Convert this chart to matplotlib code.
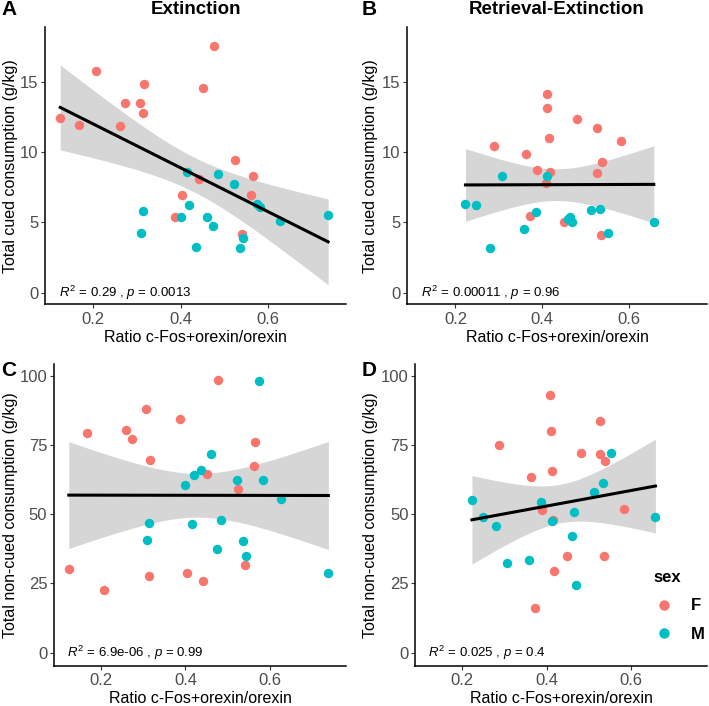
import numpy as np
import matplotlib
matplotlib.use("Agg")
import matplotlib.pyplot as plt
from matplotlib.lines import Line2D

plt.rcParams['font.family'] = ['Liberation Sans', 'DejaVu Sans']
plt.rcParams['mathtext.fontset'] = 'custom'
plt.rcParams['mathtext.rm'] = 'Liberation Sans'
plt.rcParams['mathtext.it'] = 'Liberation Sans:italic'

############## Data ##################
# Extinction group (same animals in panels A and C)
ratio_ext_F = [0.124, 0.167, 0.207, 0.273, 0.260, 0.306, 0.316, 0.313, 0.451, 0.477,
               0.524, 0.565, 0.562, 0.442, 0.403, 0.387, 0.540]
cued_ext_F = [12.46, 11.94, 15.76, 13.53, 11.87, 13.53, 14.83, 12.79, 14.60, 17.54,
              9.45, 8.33, 6.98, 8.12, 6.98, 5.41, 4.18]
noncued_ext_F = [30.3, 79.2, 22.6, 77.3, 80.4, 88.0, 69.6, 27.6, 64.4, 98.3,
                 59.2, 76.1, 67.4, 26.0, 28.9, 84.2, 31.8]

ratio_ext_M = [0.313, 0.310, 0.415, 0.4195, 0.400, 0.460, 0.474, 0.4356, 0.485, 0.522,
               0.574, 0.583, 0.544, 0.5365, 0.627, 0.738]
cued_ext_M = [5.79, 4.22, 8.59, 6.27, 5.41, 5.41, 4.75, 3.23, 8.45, 7.71,
              6.34, 6.08, 3.92, 3.20, 5.13, 5.53]
noncued_ext_M = [46.8, 40.8, 46.4, 64.1, 60.5, 71.6, 37.3, 65.9, 48.0, 62.2,
                 98.0, 62.2, 35.0, 40.4, 55.4, 28.9]

# Retrieval-Extinction group (panels B and D)
ratio_ret_F = [0.288, 0.362, 0.389, 0.371, 0.4077, 0.410, 0.412, 0.4146, 0.417, 0.480,
               0.527, 0.5257, 0.537, 0.582, 0.449, 0.535]
cued_ret_F = [10.44, 9.85, 8.76, 5.46, 7.81, 14.17, 13.15, 11.04, 8.59, 12.37,
              11.70, 8.55, 9.28, 10.82, 5.03, 4.11]
noncued_ret_F = [75.1, 63.5, 51.5, 16.0, 93.1, 79.9, 65.7, 47.9, 29.4, 72.0,
                 83.5, 71.7, 69.3, 51.9, 34.9, 34.8]

ratio_ret_M = [0.223, 0.248, 0.3065, 0.279, 0.357, 0.3854, 0.4115, 0.4605, 0.4644, 0.469,
               0.512, 0.534, 0.552, 0.657]
cued_ret_M = [6.34, 6.22, 8.31, 3.16, 4.56, 5.77, 8.33, 5.22, 5.39, 5.06,
              5.89, 5.98, 4.22, 5.03]
noncued_ret_M = [55.1, 49.1, 32.4, 45.7, 33.3, 54.5, 47.4, 42.2, 50.9, 24.4,
                 57.9, 61.4, 72.0, 49.0]

stat_labels = [r"$\it{R}^2$ = 0.29 , $\it{p}$ = 0.0013",
               r"$\it{R}^2$ = 0.00011 , $\it{p}$ = 0.96",
               r"$\it{R}^2$ = 6.9e-06 , $\it{p}$ = 0.99",
               r"$\it{R}^2$ = 0.025 , $\it{p}$ = 0.4"]

COL_F = '#F8766D'
COL_M = '#00BFC4'
T95 = {28: 2.0484, 31: 2.0395}   # t quantiles for 95% CI


def lm_band(x, y, n_grid=80):
    x = np.asarray(x, float)
    y = np.asarray(y, float)
    n = len(x)
    X = np.column_stack([np.ones(n), x])
    beta = np.linalg.lstsq(X, y, rcond=None)[0]
    resid = y - X @ beta
    s2 = resid @ resid / (n - 2)
    cov = s2 * np.linalg.inv(X.T @ X)
    xg = np.linspace(x.min(), x.max(), n_grid)
    Xg = np.column_stack([np.ones_like(xg), xg])
    se = np.sqrt(np.einsum('ij,jk,ik->i', Xg, cov, Xg))
    yhat = Xg @ beta
    t = T95[n - 2]
    return xg, yhat, yhat - t * se, yhat + t * se


W, H = 709, 706
fig = plt.figure(figsize=(W / 100, H / 100), dpi=100)


def px_axes(l, r, t, b):
    return fig.add_axes([l / W, 1 - b / H, (r - l) / W, (b - t) / H])


def draw_panel(ax, xF, yF, xM, yM, ylim, yticks, stat):
    x_all = np.concatenate([xF, xM])
    y_all = np.concatenate([yF, yM])
    xg, yhat, lo, hi = lm_band(x_all, y_all)
    ax.fill_between(xg, lo, hi, color='#D6D6D6', lw=0, zorder=1)
    ax.scatter(xF, yF, s=46, color=COL_F, lw=0, zorder=2)
    ax.scatter(xM, yM, s=46, color=COL_M, lw=0, zorder=2)
    ax.plot(xg, yhat, color='black', lw=2.2, zorder=3)
    ax.set_xlim(0.089, 0.779)
    ax.set_ylim(*ylim)
    ax.set_xticks([0.2, 0.4, 0.6])
    ax.set_xticklabels(['0.2', '0.4', '0.6'])
    ax.set_yticks(yticks)
    for s in ['top', 'right']:
        ax.spines[s].set_visible(False)
    for s in ['left', 'bottom']:
        ax.spines[s].set_linewidth(1.1)
        ax.spines[s].set_color('black')
    ax.tick_params(axis='both', length=2.8, width=0.8, color='#333333',
                   labelsize=12, labelcolor='#4D4D4D')
    ax.tick_params(axis='x', pad=2.6)
    ax.tick_params(axis='y', pad=2.0)
    ax.text(0.12, 0, stat, fontsize=9.5, ha='left', va='center', color='black', zorder=4)


axA = px_axes(45, 346, 27.3, 304.3)
axB = px_axes(407.3, 706.7, 27.3, 304.3)
axC = px_axes(54, 345.7, 363.7, 665.5)
axD = px_axes(415.3, 707, 363.7, 665.5)

draw_panel(axA, ratio_ext_F, cued_ext_F, ratio_ext_M, cued_ext_M,
           (-0.83, 18.89), [0, 5, 10, 15], stat_labels[0])
draw_panel(axB, ratio_ret_F, cued_ret_F, ratio_ret_M, cued_ret_M,
           (-0.83, 18.89), [0, 5, 10, 15], stat_labels[1])
draw_panel(axC, ratio_ext_F, noncued_ext_F, ratio_ext_M, noncued_ext_M,
           (-4.6, 104.3), [0, 25, 50, 75, 100], stat_labels[2])
draw_panel(axD, ratio_ret_F, noncued_ret_F, ratio_ret_M, noncued_ret_M,
           (-4.6, 104.3), [0, 25, 50, 75, 100], stat_labels[3])


def ftext(x, y, s, **kw):
    fig.text(x / W, 1 - y / H, s, **kw)


# titles and panel letters
ftext(195.5, 10, 'Extinction', fontsize=13.5, fontweight='bold', ha='center', va='center')
ftext(557, 10, 'Retrieval-Extinction', fontsize=13.5, fontweight='bold', ha='center', va='center')
ftext(1, 9.5, 'A', fontsize=15, fontweight='bold', ha='left', va='center')
ftext(362, 9.5, 'B', fontsize=15, fontweight='bold', ha='left', va='center')
ftext(1, 370, 'C', fontsize=15, fontweight='bold', ha='left', va='center')
ftext(362, 370, 'D', fontsize=15, fontweight='bold', ha='left', va='center')

# axis titles
xlab = 'Ratio c-Fos+orexin/orexin'
ftext(195.5, 338, xlab, fontsize=11.5, ha='center', va='center')
ftext(557, 338, xlab, fontsize=11.5, ha='center', va='center')
ftext(200, 698.5, xlab, fontsize=11.5, ha='center', va='center')
ftext(561, 698.5, xlab, fontsize=11.5, ha='center', va='center')
ftext(11, 166, 'Total cued consumption (g/kg)', fontsize=11.5, rotation=90, ha='center', va='center')
ftext(371, 166, 'Total cued consumption (g/kg)', fontsize=11.5, rotation=90, ha='center', va='center')
ftext(11, 515, 'Total non-cued consumption (g/kg)', fontsize=11.5, rotation=90, ha='center', va='center')
ftext(371, 515, 'Total non-cued consumption (g/kg)', fontsize=11.5, rotation=90, ha='center', va='center')

# legend
handles = [Line2D([], [], marker='o', ls='', color=COL_F, markersize=7.5, mec='none'),
           Line2D([], [], marker='o', ls='', color=COL_M, markersize=7.5, mec='none')]
leg = fig.legend(handles, ['F', 'M'], title='sex', loc='center',
                 bbox_to_anchor=(679 / W, 1 - 606 / H), frameon=False,
                 prop={'size': 12, 'weight': 'bold'}, handletextpad=1.0,
                 labelspacing=0.8, handlelength=1.2)
leg.get_title().set_fontweight('bold')
leg.get_title().set_fontsize(12)
leg._legend_box.align = 'left'

plt.savefig('out.png', dpi=100)
